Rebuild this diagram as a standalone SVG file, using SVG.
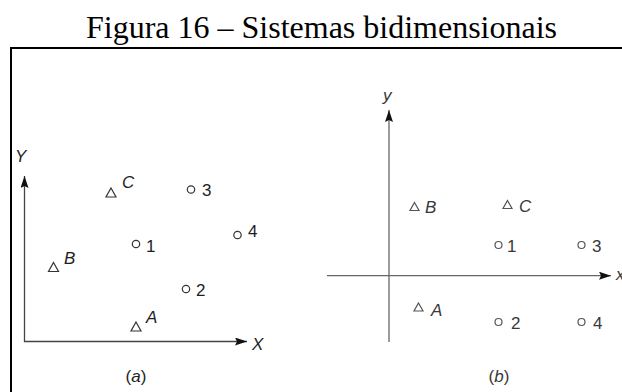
<svg xmlns="http://www.w3.org/2000/svg" width="622" height="392" viewBox="0 0 622 392">
<style>
.title{font-family:"Liberation Sans","Liberation Serif","Times New Roman",serif;font-family:"Liberation Serif","Times New Roman",serif;font-size:32px;fill:#000}
.lbl{font-family:"Liberation Sans",Arial,sans-serif;font-size:17px;fill:#1e1e1e}
.it{font-style:italic}
.b .lbl{fill:#383838}
.axis{stroke:#444;stroke-width:1.3;fill:none}
.b .axis{stroke:#666}
.tri{fill:none;stroke:#333;stroke-width:1.2}
.pt{fill:none;stroke:#333;stroke-width:1.2}
.b .tri,.b .pt{stroke:#555}
.frame{fill:none;stroke:#000;stroke-width:2}
</style>
<defs>
<marker id="ah" viewBox="0 0 12 8" refX="12" refY="4" markerWidth="12" markerHeight="8" markerUnits="userSpaceOnUse" orient="auto">
<path d="M0,0 L12,4 L0,8 L2,4 Z" fill="#111"/>
</marker>
</defs>
<rect width="622" height="392" fill="#fff"/>
<text class="title" x="321.5" y="38" text-anchor="middle">Figura 16 – Sistemas bidimensionais</text>
<path class="frame" d="M11,392 V48 H622"/>

<g id="panel-a">
<g id="connectors-a">
<line class="axis" x1="24.5" y1="342" x2="24.5" y2="176" marker-end="url(#ah)"/>
<line class="axis" x1="24" y1="341.5" x2="247" y2="341.5" marker-end="url(#ah)"/>
</g>
<text class="lbl it" x="15" y="162">Y</text>
<text class="lbl it" x="252" y="350">X</text>
<g id="a-C"><path class="tri" d="M111,188 L116,197 L106,197 Z"/><text class="lbl it" x="122" y="188">C</text></g>
<g id="a-3"><circle class="pt" cx="191" cy="189.5" r="3.7"/><text class="lbl" x="202" y="196">3</text></g>
<g id="a-4"><circle class="pt" cx="237.5" cy="235" r="3.7"/><text class="lbl" x="248" y="237">4</text></g>
<g id="a-1"><circle class="pt" cx="136" cy="244" r="3.7"/><text class="lbl" x="146" y="251.5">1</text></g>
<g id="a-B"><path class="tri" d="M53.5,262.5 L58.5,271.5 L48.5,271.5 Z"/><text class="lbl it" x="64" y="264">B</text></g>
<g id="a-2"><circle class="pt" cx="186" cy="289" r="3.7"/><text class="lbl" x="196" y="295.5">2</text></g>
<g id="a-A"><path class="tri" d="M136,322 L141,331 L131,331 Z"/><text class="lbl it" x="146" y="323">A</text></g>
<text class="lbl" x="136" y="382" text-anchor="middle">(<tspan class="it">a</tspan>)</text>
</g>

<g id="panel-b" class="b">
<g id="connectors-b">
<line class="axis" x1="389" y1="342" x2="389" y2="110" marker-end="url(#ah)"/>
<line class="axis" x1="327" y1="275.7" x2="611" y2="275.7" marker-end="url(#ah)"/>
</g>
<text class="lbl it" x="383" y="101">y</text>
<text class="lbl it" x="616" y="280">x</text>
<g id="b-B"><path class="tri" d="M414.5,202.5 L419,210.5 L410,210.5 Z"/><text class="lbl it" x="425" y="212.5">B</text></g>
<g id="b-C"><path class="tri" d="M507.5,200.5 L512,208.5 L503,208.5 Z"/><text class="lbl it" x="519" y="211.5">C</text></g>
<g id="b-1"><circle class="pt" cx="498.5" cy="245" r="3.5"/><text class="lbl" x="507" y="251.5">1</text></g>
<g id="b-3"><circle class="pt" cx="581.5" cy="245" r="3.5"/><text class="lbl" x="592" y="251.5">3</text></g>
<g id="b-A"><path class="tri" d="M418.5,303 L423,311 L414,311 Z"/><text class="lbl it" x="431" y="316">A</text></g>
<g id="b-2"><circle class="pt" cx="498.5" cy="322" r="3.5"/><text class="lbl" x="511" y="328.5">2</text></g>
<g id="b-4"><circle class="pt" cx="581.5" cy="322" r="3.5"/><text class="lbl" x="593" y="328.5">4</text></g>
<text class="lbl" x="499" y="382" text-anchor="middle">(<tspan class="it">b</tspan>)</text>
</g>
</svg>
